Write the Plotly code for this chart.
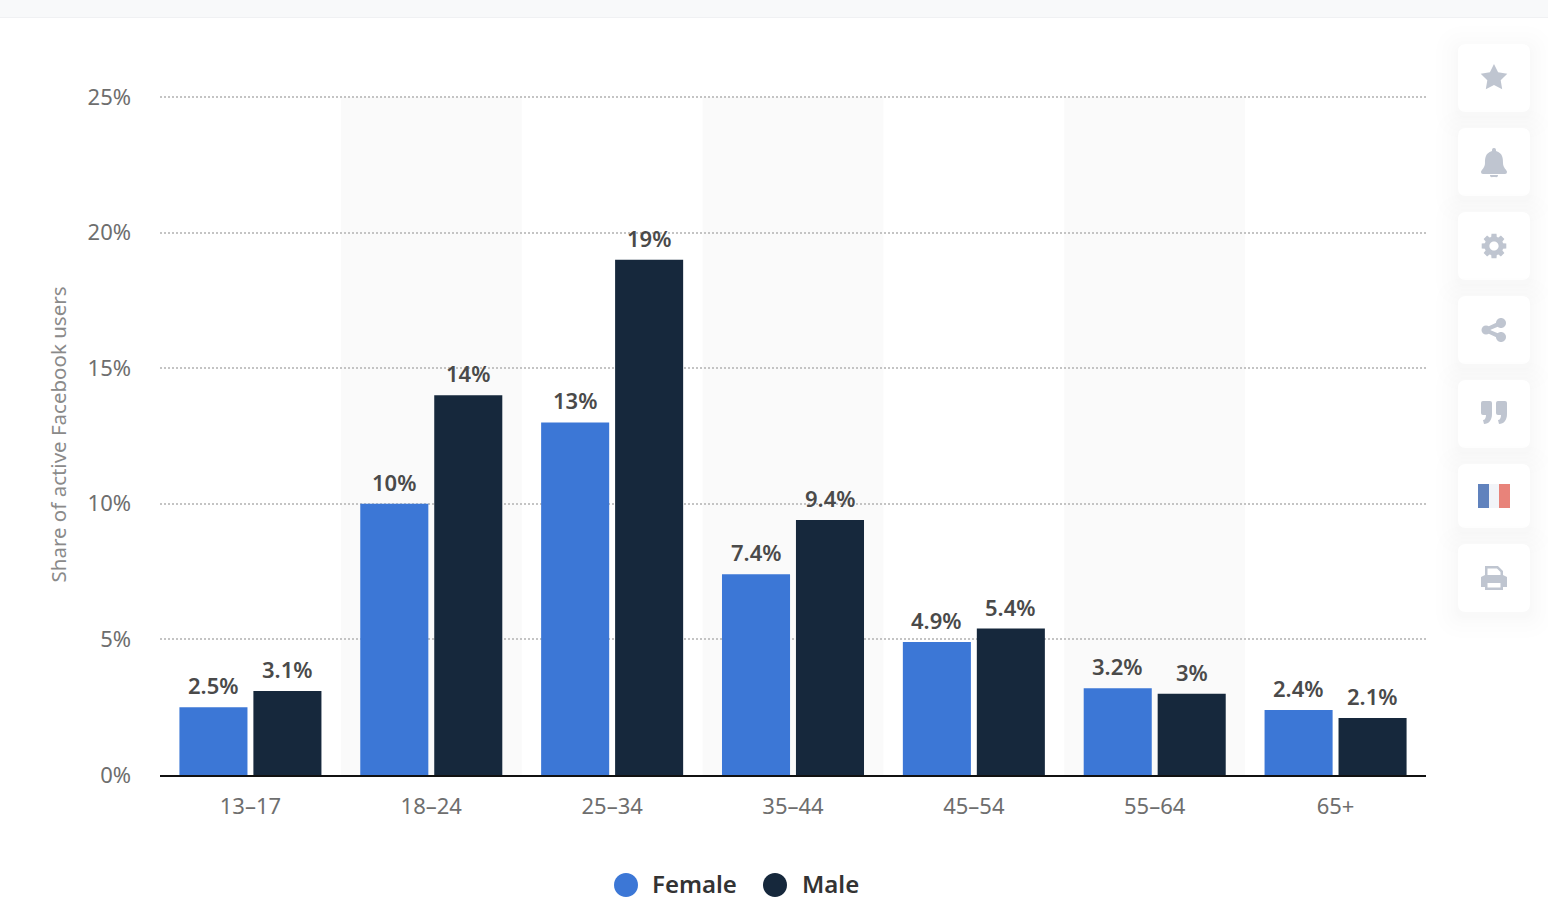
import math
import re
import plotly.graph_objects as go

# 数据
age_groups = ['13–17', '18–24', '25–34', '35–44', '45–54', '55–64', '65+']
female = [2.5, 10, 13, 7.4, 4.9, 3.2, 2.4]
male = [3.1, 14, 19, 9.4, 5.4, 3, 2.1]
female_labels = ['2.5%', '10%', '13%', '7.4%', '4.9%', '3.2%', '2.4%']
male_labels = ['3.1%', '14%', '19%', '9.4%', '5.4%', '3%', '2.1%']
y_ticks = [0, 5, 10, 15, 20, 25]
y_tick_labels = ['0%', '5%', '10%', '15%', '20%', '25%']

W, H = 1548, 918
L, R, T, B = 160, 1426, 94, 775
Y_MAX = 25.11  # 留一点空间，25% 的格线才画得出来
FEMALE_COLOR = '#3c77d6'
MALE_COLOR = '#16283c'
ICON_COLOR = '#bfc5d0'
FONT = 'Noto Sans'


def px(x):
    return (x - L) / (R - L)


def py(y):
    return (B - y) / (B - T)


def path(d):
    # 像素路径 -> paper 座标
    out = []
    is_x = True
    for tok in re.findall(r'[MLCQZ]|-?\d+\.?\d*', d):
        if tok in 'MLCQZ':
            out.append(tok)
            is_x = True
        else:
            out.append(f'{px(float(tok)):.5f}' if is_x else f'{py(float(tok)):.5f}')
            is_x = not is_x
    return ' '.join(out)


def rounded(x0, y0, x1, y1, r):
    return (f'M {x0 + r} {y0} L {x1 - r} {y0} Q {x1} {y0} {x1} {y0 + r} L {x1} {y1 - r} '
            f'Q {x1} {y1} {x1 - r} {y1} L {x0 + r} {y1} Q {x0} {y1} {x0} {y1 - r} '
            f'L {x0} {y0 + r} Q {x0} {y0} {x0 + r} {y0} Z')


def circle(cx, cy, r):
    return (f'M {cx - r} {cy} C {cx - r} {cy - r * 0.55} {cx - r * 0.55} {cy - r} {cx} {cy - r} '
            f'C {cx + r * 0.55} {cy - r} {cx + r} {cy - r * 0.55} {cx + r} {cy} '
            f'C {cx + r} {cy + r * 0.55} {cx + r * 0.55} {cy + r} {cx} {cy + r} '
            f'C {cx - r * 0.55} {cy + r} {cx - r} {cy + r * 0.55} {cx - r} {cy} Z')


def add_path(fig, d, color, layer='above'):
    fig.add_shape(type='path', xref='paper', yref='paper', path=path(d),
                  fillcolor=color, line_width=0, layer=layer)


fig = go.Figure()
fig.add_trace(go.Bar(x=age_groups, y=female, name='Female', marker_color=FEMALE_COLOR))
fig.add_trace(go.Bar(x=age_groups, y=male, name='Male', marker_color=MALE_COLOR))
fig.update_traces(cliponaxis=False, marker_line_width=0, hoverinfo='skip')

# 数值标签
for series, labels, shift in ((female, female_labels, -37), (male, male_labels, 37)):
    for cat, val, lab in zip(age_groups, series, labels):
        fig.add_annotation(x=cat, y=val, text=lab, showarrow=False, xshift=shift, yshift=5, yanchor='bottom',
                           font=dict(family=FONT, size=22, color='#4a4a4a', weight=600))

# 隔列底色
for i in range(1, len(age_groups), 2):
    fig.add_shape(type='rect', xref='x', yref='y', x0=i - 0.5, x1=i + 0.5, y0=0, y1=25,
                  fillcolor='#fafafa', line_width=0, layer='below')

# 上方灰条
add_path(fig, f'M 0 0 L {W} 0 L {W} 17 L 0 17 Z', '#f8f9fa', 'below')
add_path(fig, f'M 0 17 L {W} 17 L {W} 18 L 0 18 Z', '#f0f1f3', 'below')

# 右侧按钮
buttons = [(44, 112), (128, 196), (212, 280), (296, 364), (380, 448), (464, 528), (544, 612)]
for y0, y1 in buttons:
    for grow in (22, 16, 11, 7, 4, 2):
        add_path(fig, rounded(1458 - grow, y0 - grow + 4, 1530 + grow, y1 + grow + 4, 8 + grow),
                 'rgba(70,90,130,0.008)', 'below')
    add_path(fig, rounded(1458, y0, 1530, y1, 8), '#ffffff', 'below')

# 星
pts = []
for k in range(10):
    rad = 14 if k % 2 == 0 else 7
    a = -math.pi / 2 + k * math.pi / 5
    pts.append(f'{1494 + rad * math.cos(a):.1f} {78 + rad * math.sin(a):.1f}')
add_path(fig, 'M ' + ' L '.join(pts) + ' Z', ICON_COLOR)

# 铃
add_path(fig, 'M 1494 148 C 1496 148 1496 150 1496 151 C 1503 153 1503 159 1503 163 '
              'C 1503 168 1507 170 1507 172 Q 1507 174 1505 174 L 1483 174 Q 1481 174 1481 172 '
              'C 1481 170 1485 168 1485 163 C 1485 159 1485 153 1492 151 C 1492 150 1492 148 1494 148 Z', ICON_COLOR)
add_path(fig, 'M 1490 175 L 1498 175 C 1498 178 1496 177 1494 177 C 1492 177 1490 178 1490 175 Z', ICON_COLOR)

# 齿轮
gear = []
for k in range(8):
    a = k * math.pi / 4
    for da, rad in ((-0.3, 9.5), (-0.2, 12.5), (0.2, 12.5), (0.3, 9.5)):
        gear.append(f'{1494 + rad * math.cos(a + da):.1f} {246 + rad * math.sin(a + da):.1f}')
add_path(fig, 'M ' + ' L '.join(gear) + ' Z ' + circle(1494, 246, 4.6), ICON_COLOR)

# 分享
for cx, cy, r in ((1486, 330, 4.5), (1501, 323, 5), (1501, 337, 5)):
    add_path(fig, circle(cx, cy, r), ICON_COLOR)
add_path(fig, 'M 1485 328 L 1500 321 L 1502 325 L 1490 330 L 1502 335 L 1500 339 L 1485 332 Z', ICON_COLOR)

# 引号
for ox in (0, 15):
    add_path(fig, f'M {1481 + ox} 403 Q {1481 + ox} 401 {1483 + ox} 401 L {1490 + ox} 401 '
                  f'Q {1492 + ox} 401 {1492 + ox} 403 L {1492 + ox} 414 '
                  f'C {1492 + ox} 420 {1489 + ox} 424 {1484 + ox} 424 L {1483 + ox} 420 '
                  f'C {1485 + ox} 420 {1486 + ox} 418 {1486 + ox} 415 L {1483 + ox} 415 '
                  f'Q {1481 + ox} 415 {1481 + ox} 413 Z', ICON_COLOR)

# 国旗
add_path(fig, 'M 1478 484 L 1489 484 L 1489 508 L 1478 508 Z', '#6082bd')
add_path(fig, 'M 1489 484 L 1499 484 L 1499 508 L 1489 508 Z', '#f2f4f8')
add_path(fig, 'M 1499 484 L 1510 484 L 1510 508 L 1499 508 Z', '#e8837a')

# 打印机
add_path(fig, 'M 1485 566 L 1498 566 L 1503 571 L 1503 575 L 1507 577 L 1507 587 L 1503 587 L 1503 590 '
              'L 1485 590 L 1485 587 L 1481 587 L 1481 577 L 1485 575 Z '
              'M 1487.5 568.5 L 1487.5 575 L 1500.5 575 L 1500.5 572 L 1497 568.5 Z '
              'M 1487.5 583 L 1487.5 587.5 L 1500.5 587.5 L 1500.5 583 Z', ICON_COLOR)

# 图例
legend_items = [('Female', FEMALE_COLOR, 626, 652), ('Male', MALE_COLOR, 775, 802)]
for name, color, cx, tx in legend_items:
    add_path(fig, circle(cx, 885, 12), color)
    fig.add_annotation(xref='paper', yref='paper', x=px(tx), y=py(884), text=name, showarrow=False,
                       xanchor='left', yanchor='middle', xshift=-2,
                       font=dict(family=FONT, size=24, color='#333333', weight=600))

fig.update_xaxes(type='category', showgrid=False, showline=True, linecolor='#111111', linewidth=2,
                 ticks='', ticklabelstandoff=11, fixedrange=True,
                 tickfont=dict(family=FONT, size=22, color='#6e6e6e'))
fig.update_yaxes(range=[0, Y_MAX], tickvals=y_ticks, ticktext=y_tick_labels, gridcolor='#c4c4c4',
                 griddash='2px,2px', gridwidth=1.5, zeroline=False, showline=False, ticklabelstandoff=28,
                 fixedrange=True, tickfont=dict(family=FONT, size=22, color='#6e6e6e'),
                 title=dict(text='Share of active Facebook users', standoff=15,
                            font=dict(family=FONT, size=20.5, color='#8a8a8a')))
fig.update_layout(width=W, height=H, margin=dict(l=L, r=W - R, t=T, b=H - B), barmode='group', bargap=0.182,
                  bargroupgap=0.08, showlegend=False, paper_bgcolor='#ffffff', plot_bgcolor='#ffffff',
                  font=dict(family=FONT), hovermode=False)

fig.write_html('out.html', config={'displayModeBar': False},
               post_script="document.body.style.margin='0';document.documentElement.style.overflow='hidden';")
